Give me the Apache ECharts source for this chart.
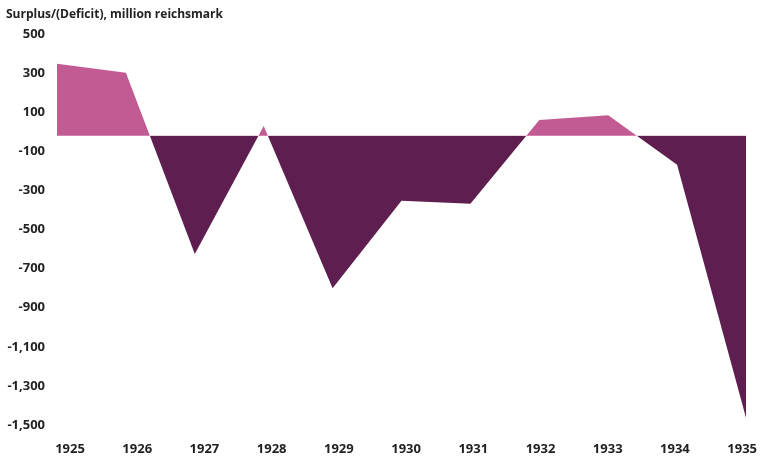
<!DOCTYPE html>
<html>
<head>
<meta charset="utf-8">
<script src="https://cdn.jsdelivr.net/npm/echarts@6/dist/echarts.min.js"></script>
<style>
  html, body { margin: 0; padding: 0; background: #fff; }
  #chart { width: 760px; height: 456px; }
</style>
</head>
<body>
<div id="chart"></div>
<script>
// anos e saldo do orçamento (milhões de reichsmark)
const anos = ['1925', '1926', '1927', '1928', '1929', '1930', '1931', '1932', '1933', '1934', '1935'];
const saldo = [368, 322, -605, 50, -780, -332, -348, 80, 105, -148, -1442];

// limites e passo do eixo y
const yMin = -1500;
const yMax = 500;
const yPasso = 200;

const rosa = '#c25b94';
const roxo = '#5e1f50';
const fonte = '"Open Sans", "Noto Sans", sans-serif';

const chart = echarts.init(document.getElementById('chart'), null, { renderer: 'canvas' });

const option = {
    animation: false,
    title: {
        text: 'Surplus/(Deficit), million reichsmark',
        left: 1,
        top: 4,
        textStyle: { fontFamily: fonte, fontSize: 12, fontWeight: 'bold', color: '#222' }
    },
    // grid 0 = área; grid 1 só carrega os rótulos dos anos (ficam um pouco deslocados no original)
    grid: [
        { left: 57, right: 14, top: 38, bottom: 27, containLabel: false },
        { left: 70, right: 13, top: 38, bottom: 27, containLabel: false }
    ],
    // cor por sinal: positivo rosa, negativo roxo
    // (precisa de faixas finitas, senão o gradiente do ECharts fica sem stops)
    visualMap: {
        show: false,
        type: 'piecewise',
        seriesIndex: 0,
        dimension: 1,
        pieces: [
            { lt: -5000, color: roxo },
            { gte: -5000, lte: 0, color: roxo },
            { gt: 0, lte: 5000, color: rosa },
            { gt: 5000, color: rosa }
        ]
    },
    xAxis: [
        {
            type: 'category',
            gridIndex: 0,
            data: anos,
            boundaryGap: false,
            axisLine: { show: false },
            axisTick: { show: false },
            axisLabel: { show: false },
            splitLine: { show: false }
        },
        {
            type: 'category',
            gridIndex: 1,
            data: anos,
            boundaryGap: false,
            axisLine: { show: false },
            axisTick: { show: false },
            axisLabel: {
                color: '#222',
                fontFamily: fonte,
                fontSize: 13,
                fontWeight: 'bold',
                margin: 14
            },
            splitLine: { show: false }
        }
    ],
    yAxis: [
        {
            type: 'value',
            gridIndex: 0,
            min: yMin,
            max: yMax,
            interval: yPasso,
            axisLine: { show: false },
            axisTick: { show: false },
            splitLine: { show: false },
            axisLabel: {
                color: '#222',
                fontFamily: fonte,
                fontSize: 13,
                fontWeight: 'bold',
                margin: 12,
                // rótulos ficam ~3px acima da posição real no original
                verticalAlign: 'bottom',
                lineHeight: 8,
                formatter: v => v.toLocaleString('en-US')
            }
        },
        {
            type: 'value',
            gridIndex: 1,
            min: yMin,
            max: yMax,
            show: false
        }
    ],
    series: [{
        name: 'Saldo',
        type: 'line',
        xAxisIndex: 0,
        yAxisIndex: 0,
        data: saldo,
        showSymbol: false,
        symbol: 'none',
        lineStyle: { width: 0 },
        areaStyle: { opacity: 1, origin: 0 },
        silent: true
    }]
};

chart.setOption(option);
</script>
</body>
</html>
